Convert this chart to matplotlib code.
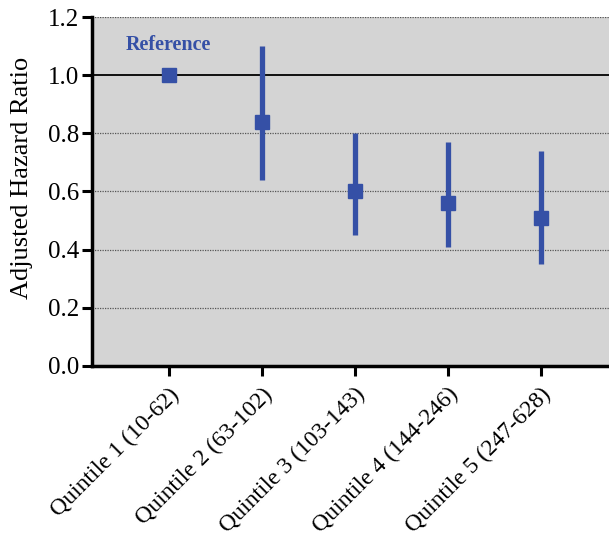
import matplotlib
matplotlib.use('Agg')
import matplotlib.pyplot as plt

labels = ['Quintile 1 (10-62)', 'Quintile 2 (63-102)', 'Quintile 3 (103-143)',
          'Quintile 4 (144-246)', 'Quintile 5 (247-628)']
hr = [1.0, 0.84, 0.60, 0.56, 0.51]
lower = [1.0, 0.64, 0.45, 0.41, 0.35]
upper = [1.0, 1.10, 0.80, 0.77, 0.74]

plt.rcParams['font.family'] = ['Liberation Serif', 'DejaVu Serif']
blue = '#3550a6'

fig = plt.figure(figsize=(6.09, 5.53), dpi=100)
ax = fig.add_axes([92 / 609, 1 - 366 / 553, 1 - 92 / 609 + 0.01, 349 / 553])
ax.set_facecolor('#d4d4d4')

xs = list(range(1, len(labels) + 1))
for y in [0.2, 0.4, 0.6, 0.8, 1.2]:
    ax.axhline(y, color='#555555', lw=0.9, ls=(0, (1, 1)), zorder=1)
ax.axhline(1.0, color='black', lw=1.3, zorder=2)

yerr = [[h - l for h, l in zip(hr, lower)], [u - h for h, u in zip(hr, upper)]]
ax.errorbar(xs, hr, yerr=yerr, fmt='s', color=blue, ms=10, elinewidth=3.8,
            capsize=0, zorder=3)
ax.text(1, 1.105, 'Reference', color=blue, fontsize=14.5, fontweight='bold',
        ha='center', va='center')

ax.set_xlim(0.174, 5.8)
ax.set_ylim(0, 1.2)
ax.set_yticks([0.0, 0.2, 0.4, 0.6, 0.8, 1.0, 1.2])
ax.set_yticklabels(['0.0', '0.2', '0.4', '0.6', '0.8', '1.0', '1.2'], fontsize=18)
ax.set_xticks(xs)
ax.set_xticklabels(labels, rotation=45, ha='right', rotation_mode='anchor', fontsize=17)
ax.set_ylabel('Adjusted Hazard Ratio', fontsize=19)
ax.yaxis.set_label_coords(-0.113, 0.54)

for s in ['top', 'right']:
    ax.spines[s].set_visible(False)
for s in ['left', 'bottom']:
    ax.spines[s].set_linewidth(2.5)
ax.tick_params(axis='both', direction='out', length=7, width=2.2, pad=2)
ax.tick_params(axis='x', pad=6)

fig.savefig('out.png', dpi=100)
